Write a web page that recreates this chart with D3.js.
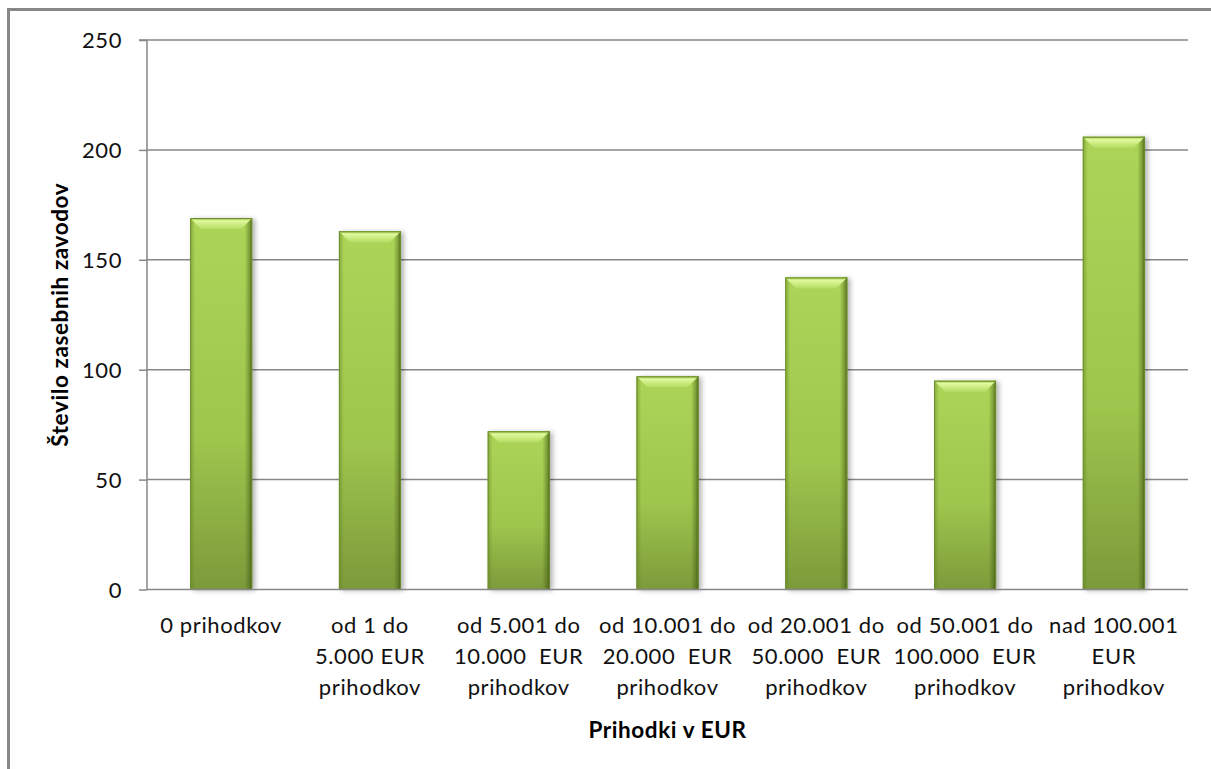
<!DOCTYPE html>
<html><head><meta charset="utf-8">
<script src="https://cdn.jsdelivr.net/npm/d3@7"></script>
<style>body{margin:0;background:#fff}svg{display:block}text{font-family:Lato,"Open Sans",sans-serif}</style>
</head><body><svg id="c" width="1211" height="769"></svg>
<script>
const categories = [
  ["0 prihodkov"],
  ["od 1 do", "5.000 EUR", "prihodkov"],
  ["od 5.001 do", "10.000  EUR", "prihodkov"],
  ["od 10.001 do", "20.000  EUR", "prihodkov"],
  ["od 20.001 do", "50.000  EUR", "prihodkov"],
  ["od 50.001 do", "100.000  EUR", "prihodkov"],
  ["nad 100.001", "EUR", "prihodkov"]
];
const values = [169, 163, 72, 97, 142, 95, 206];
const yTicks = [0, 50, 100, 150, 200, 250];
const xTitle = "Prihodki v EUR";
const yTitle = "Število zasebnih zavodov";

const svg = d3.select("#c");
const L = 147, R = 1188, T = 40, B = 589.5;
const x = d3.scaleBand().domain(d3.range(values.length)).range([L, R]).paddingInner(0.583).paddingOuter(0.29);
const y = d3.scaleLinear().domain([0, 250]).range([B, T]);

const defs = svg.append("defs");
const gv = defs.append("linearGradient").attr("id","gv").attr("x1",0).attr("y1",0).attr("x2",0).attr("y2",1);
gv.append("stop").attr("offset","0%").attr("stop-color","#acd558");
gv.append("stop").attr("offset","60%").attr("stop-color","#9ec54d");
gv.append("stop").attr("offset","100%").attr("stop-color","#7c9a3a");
const gh = defs.append("linearGradient").attr("id","gh").attr("x1",0).attr("y1",0).attr("x2",1).attr("y2",0);
gh.append("stop").attr("offset","0%").attr("stop-color","#5f7f22").attr("stop-opacity",0.5);
gh.append("stop").attr("offset","8%").attr("stop-color","#5f7f22").attr("stop-opacity",0);
gh.append("stop").attr("offset","88%").attr("stop-color","#3e5410").attr("stop-opacity",0);
gh.append("stop").attr("offset","96%").attr("stop-color","#3e5410").attr("stop-opacity",0.45);
gh.append("stop").attr("offset","100%").attr("stop-color","#2f400a").attr("stop-opacity",0.85);
const gt = defs.append("linearGradient").attr("id","gt").attr("x1",0).attr("y1",0).attr("x2",0).attr("y2",1);
gt.append("stop").attr("offset","0%").attr("stop-color","#8fb23f");
gt.append("stop").attr("offset","25%").attr("stop-color","#e0fa9c");
gt.append("stop").attr("offset","100%").attr("stop-color","#b5dc64");
const f = defs.append("filter").attr("id","sh").attr("x","-20%").attr("y","-5%").attr("width","150%").attr("height","115%");
f.append("feDropShadow").attr("dx",3).attr("dy",1).attr("stdDeviation",2.5).attr("flood-color","#000").attr("flood-opacity",0.3);

// outer border
svg.append("rect").attr("x",8.5).attr("y",9.5).attr("width",1230).attr("height",790)
  .attr("fill","none").attr("stroke","#878787").attr("stroke-width",3);

// gridlines
svg.append("g").selectAll("line").data(yTicks.filter(d=>d>0)).join("line")
  .attr("x1",L).attr("x2",R).attr("y1",d=>y(d)).attr("y2",d=>y(d))
  .attr("stroke","#878787").attr("stroke-width",1.5);

// y axis
const ya = svg.append("g").attr("transform",`translate(${L},0)`)
  .call(d3.axisLeft(y).tickValues(yTicks).tickSize(8).tickPadding(17));
ya.select(".domain").attr("stroke","#878787").attr("stroke-width",1.5).attr("d",`M-8,${T}H0V${B}`);
ya.selectAll(".tick line").attr("stroke","#878787").attr("stroke-width",1.5);
ya.selectAll(".tick text").attr("font-size",22).attr("fill","#111").attr("font-family","Lato,sans-serif")
  .attr("letter-spacing",0.6).attr("dy","0.36em");

// bars
const bars = svg.append("g").selectAll("g").data(values).join("g");
bars.append("rect").attr("x",(d,i)=>x(i)).attr("y",d=>y(d)).attr("width",x.bandwidth()).attr("height",d=>B-y(d))
  .attr("fill","url(#gv)").attr("filter","url(#sh)");
bars.append("rect").attr("x",(d,i)=>x(i)).attr("y",d=>y(d)).attr("width",x.bandwidth()).attr("height",d=>B-y(d))
  .attr("fill","url(#gh)");
bars.append("path").attr("d",(d,i)=>{
  const x0=x(i), x1=x(i)+x.bandwidth(), t=y(d), h=11;
  return `M${x0},${t}H${x1}L${x1-h},${t+h}H${x0+h}Z`;
}).attr("fill","url(#gt)");
bars.append("rect").attr("x",(d,i)=>x(i)+0.5).attr("y",d=>y(d)+0.5).attr("width",x.bandwidth()-1).attr("height",d=>B-y(d)-0.5)
  .attr("fill","none").attr("stroke","#6f8f2c").attr("stroke-width",1);

// x axis line
svg.append("line").attr("x1",L).attr("x2",R).attr("y1",B).attr("y2",B).attr("stroke","#878787").attr("stroke-width",1.5);

// category labels
const lab = svg.append("g").selectAll("text").data(categories).join("text")
  .attr("x",(d,i)=>x(i)+x.bandwidth()/2).attr("y",633).attr("text-anchor","middle")
  .attr("font-size",22).attr("letter-spacing",0.6).attr("fill","#111").style("white-space","pre");
lab.selectAll("tspan").data(d=>d).join("tspan")
  .attr("x",function(){return this.parentNode.getAttribute("x");})
  .attr("dy",(d,i)=>i===0?0:31).text(d=>d);

// axis titles
svg.append("text").attr("x",(L+R)/2).attr("y",738).attr("text-anchor","middle")
  .attr("font-size",22.5).attr("letter-spacing",0.6).attr("font-weight","bold").attr("fill","#000").text(xTitle);
svg.append("text").attr("transform",`translate(68,${(T+B)/2}) rotate(-90)`).attr("text-anchor","middle")
  .attr("font-size",22.5).attr("letter-spacing",0.6).attr("font-weight","bold").attr("fill","#000").text(yTitle);
</script></body></html>
